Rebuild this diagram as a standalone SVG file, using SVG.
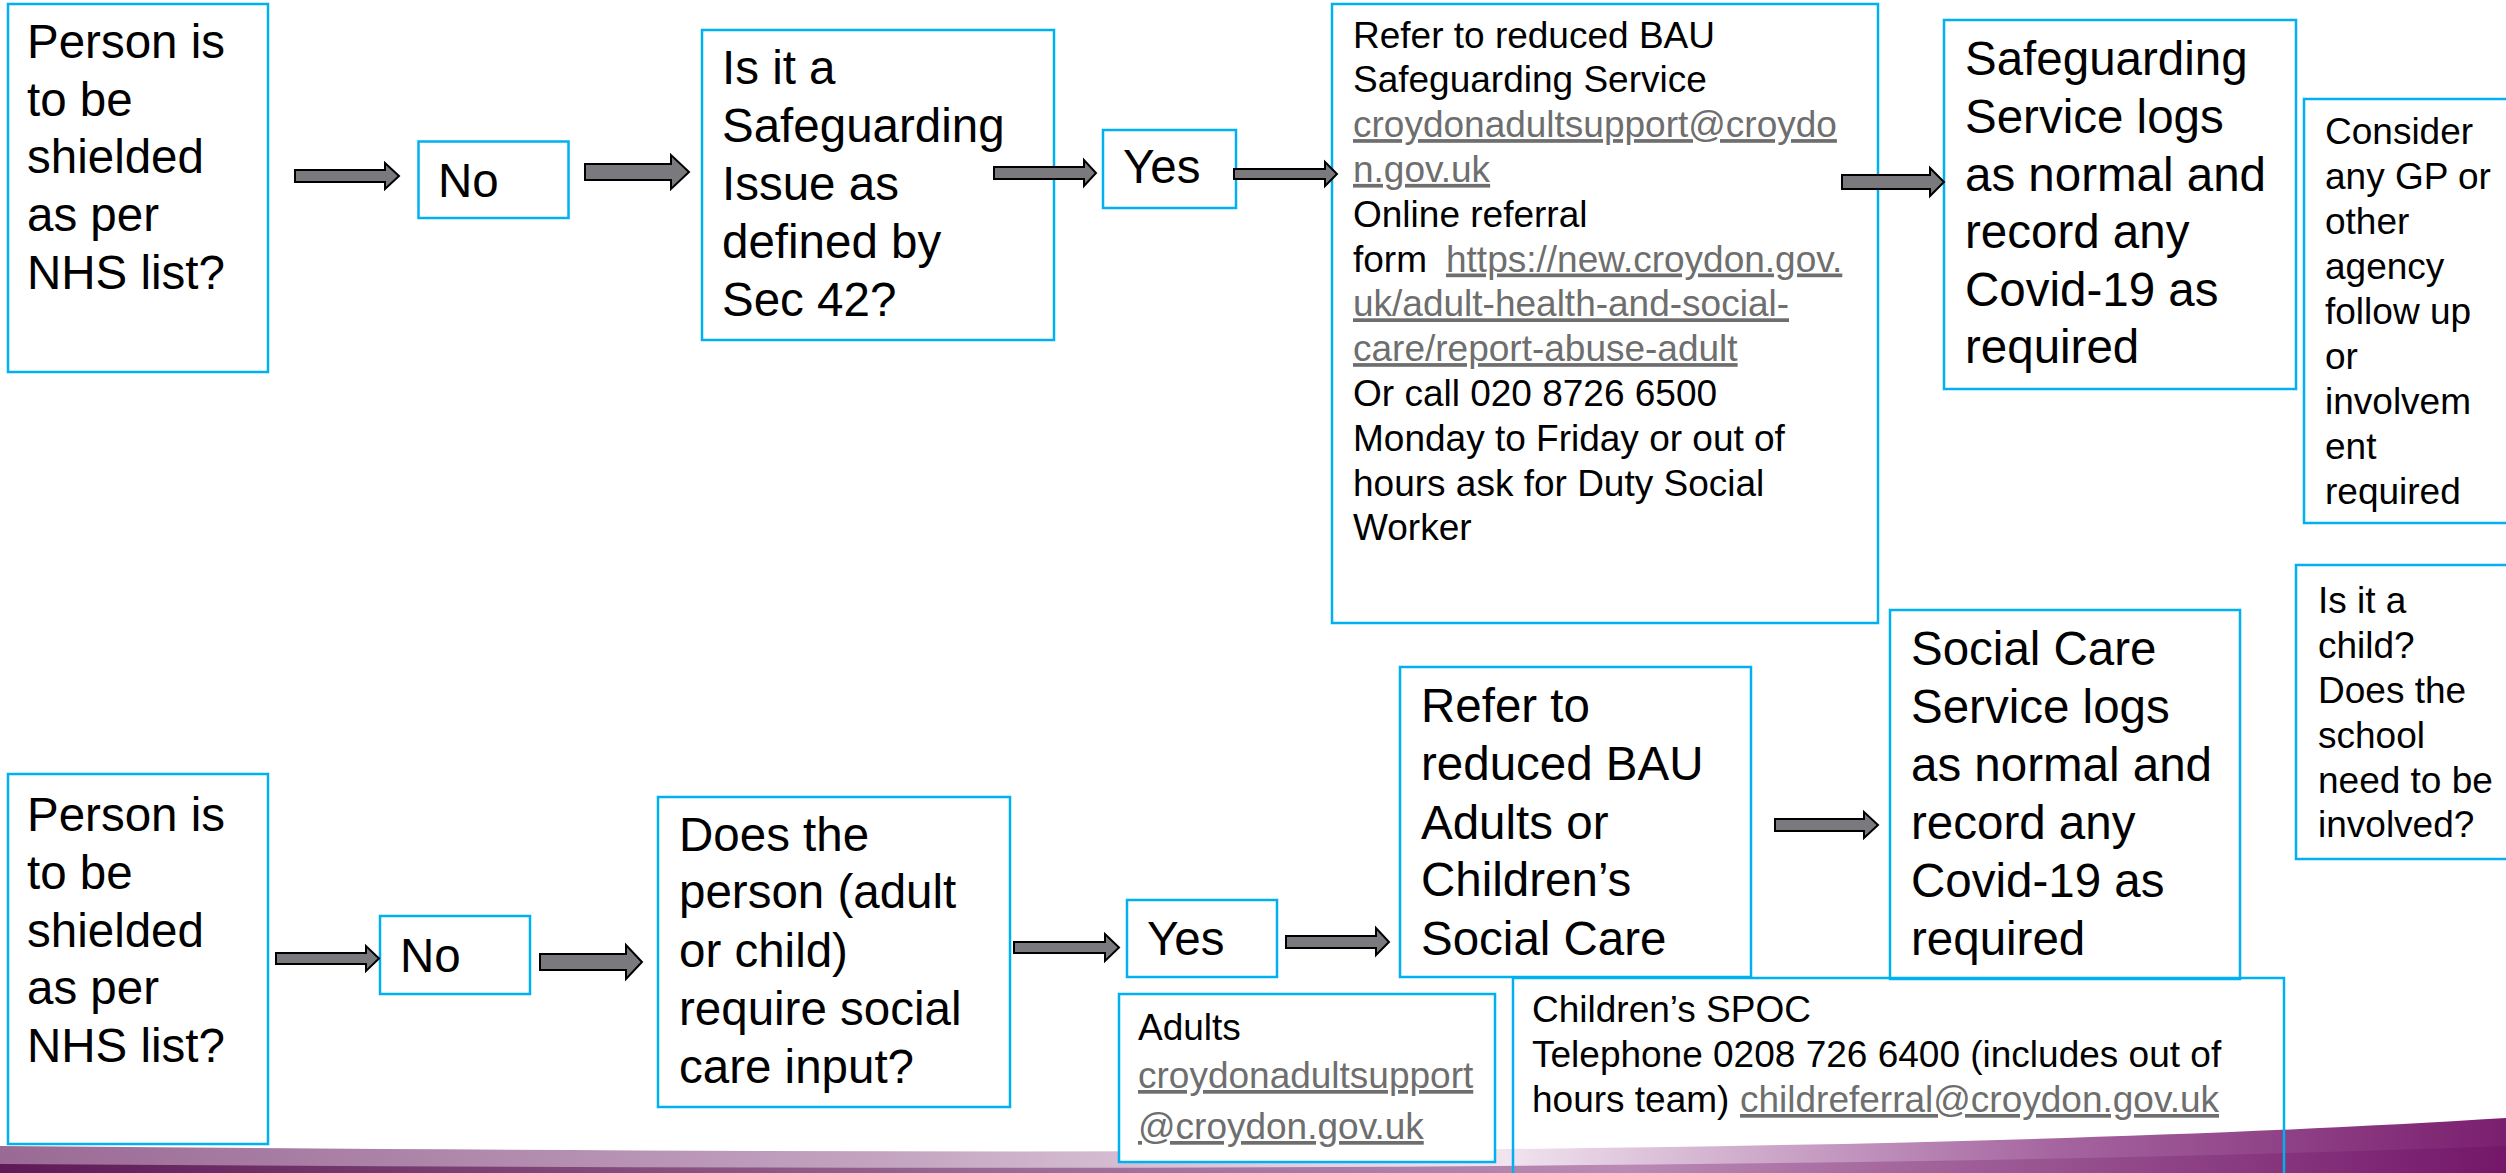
<svg xmlns="http://www.w3.org/2000/svg" width="2506" height="1173" viewBox="0 0 2506 1173">
<defs>
<style>
.box{fill:#ffffff;stroke:#00b0f0;stroke-width:2.5}
.boxn{fill:none;stroke:#00b0f0;stroke-width:2.5}
.big{font-family:"Liberation Sans",Arial,sans-serif;font-size:47.5px;fill:#000}
.sm{font-family:"Liberation Sans",Arial,sans-serif;font-size:37px;fill:#000}
.link{fill:#6e6e6e;text-decoration:underline}
.arr{fill:#7a7a7e;stroke:#000;stroke-width:2;stroke-linejoin:miter}
</style>
<linearGradient id="band" x1="0" y1="0" x2="1" y2="0">
<stop offset="0" stop-color="#9a6a95"/>
<stop offset="0.35" stop-color="#c3a3c0"/>
<stop offset="0.6" stop-color="#f1e4ef"/>
<stop offset="0.82" stop-color="#a565a0"/>
<stop offset="1" stop-color="#7a1f6e"/>
</linearGradient>
<linearGradient id="band2" x1="0" y1="0" x2="1" y2="0">
<stop offset="0" stop-color="#5e1a57"/>
<stop offset="0.4" stop-color="#9a6a95"/>
<stop offset="0.65" stop-color="#b98ab4"/>
<stop offset="1" stop-color="#74176a"/>
</linearGradient>
</defs>
<rect width="2506" height="1173" fill="#ffffff"/>
<g id="band-decor">
<path d="M0,1146 C800,1152 1800,1162 2506,1118 L2506,1173 L0,1173 Z" fill="url(#band)"/>
<path d="M0,1164 C900,1170 1800,1172 2506,1146 L2506,1173 L0,1173 Z" fill="url(#band2)"/>
</g>
<g id="n-a1">
<rect class="box" x="8" y="4" width="260" height="368"/>
<text class="big" x="27"><tspan x="27" y="58">Person is</tspan><tspan x="27" y="116">to be</tspan><tspan x="27" y="173">shielded</tspan><tspan x="27" y="231">as per</tspan><tspan x="27" y="289">NHS list?</tspan></text>
</g>
<g id="n-no1">
<rect class="box" x="418.5" y="141.5" width="150" height="76.5"/>
<text class="big" x="438" y="197">No</text>
</g>
<g id="n-b1">
<rect class="box" x="702" y="30" width="352" height="310"/>
<text class="big"><tspan x="722" y="84">Is it a</tspan><tspan x="722" y="142">Safeguarding</tspan><tspan x="722" y="200">Issue as</tspan><tspan x="722" y="258">defined by</tspan><tspan x="722" y="316">Sec 42?</tspan></text>
</g>
<g id="n-yes1">
<rect class="box" x="1103" y="130" width="133" height="78"/>
<text class="big" x="1123" y="183">Yes</text>
</g>
<g id="n-c1">
<rect class="box" x="1332" y="4" width="546" height="619"/>
<text class="sm">
<tspan x="1353" y="47.5">Refer to reduced BAU</tspan>
<tspan x="1353" y="92.3">Safeguarding Service</tspan>
<tspan x="1353" y="137.1" class="link">croydonadultsupport@croydo</tspan>
<tspan x="1353" y="181.9" class="link">n.gov.uk</tspan>
<tspan x="1353" y="226.7">Online referral</tspan>
<tspan x="1353" y="271.5">form</tspan><tspan x="1446" y="271.5" class="link">https://new.croydon.gov.</tspan>
<tspan x="1353" y="316.3" class="link">uk/adult-health-and-social-</tspan>
<tspan x="1353" y="361.1" class="link">care/report-abuse-adult</tspan>
<tspan x="1353" y="405.9">Or call 020 8726 6500</tspan>
<tspan x="1353" y="450.7">Monday to Friday or out of</tspan>
<tspan x="1353" y="495.5">hours ask for Duty Social</tspan>
<tspan x="1353" y="540.3">Worker</tspan>
</text>
</g>
<g id="n-d1">
<rect class="box" x="1944" y="20" width="352" height="369"/>
<text class="big"><tspan x="1965" y="75">Safeguarding</tspan><tspan x="1965" y="133">Service logs</tspan><tspan x="1965" y="191">as normal and</tspan><tspan x="1965" y="248">record any</tspan><tspan x="1965" y="306">Covid-19 as</tspan><tspan x="1965" y="363">required</tspan></text>
</g>
<g id="n-e1">
<rect class="box" x="2304" y="99" width="216" height="424"/>
<text class="sm"><tspan x="2325" y="144">Consider</tspan><tspan x="2325" y="189">any GP or</tspan><tspan x="2325" y="234">other</tspan><tspan x="2325" y="279">agency</tspan><tspan x="2325" y="324">follow up</tspan><tspan x="2325" y="369">or</tspan><tspan x="2325" y="414">involvem</tspan><tspan x="2325" y="459">ent</tspan><tspan x="2325" y="504">required</tspan></text>
</g>
<g id="n-a2">
<rect class="box" x="8" y="774" width="260" height="370"/>
<text class="big"><tspan x="27" y="831">Person is</tspan><tspan x="27" y="889">to be</tspan><tspan x="27" y="947">shielded</tspan><tspan x="27" y="1004">as per</tspan><tspan x="27" y="1062">NHS list?</tspan></text>
</g>
<g id="n-no2">
<rect class="box" x="380" y="916" width="150" height="78"/>
<text class="big" x="400" y="972">No</text>
</g>
<g id="n-b2">
<rect class="box" x="658" y="797" width="352" height="310"/>
<text class="big"><tspan x="679" y="851">Does the</tspan><tspan x="679" y="908">person (adult</tspan><tspan x="679" y="967">or child)</tspan><tspan x="679" y="1025">require social</tspan><tspan x="679" y="1083">care input?</tspan></text>
</g>
<g id="n-yes2">
<rect class="box" x="1127" y="900" width="150" height="77"/>
<text class="big" x="1147" y="954.5">Yes</text>
</g>
<g id="n-c2">
<rect class="box" x="1400" y="667" width="351" height="310"/>
<text class="big"><tspan x="1421" y="722">Refer to</tspan><tspan x="1421" y="780">reduced BAU</tspan><tspan x="1421" y="838.5">Adults or</tspan><tspan x="1421" y="896">Children’s</tspan><tspan x="1421" y="954.5">Social Care</tspan></text>
</g>
<g id="n-d2">
<rect class="box" x="1890" y="610" width="350" height="369"/>
<text class="big"><tspan x="1911" y="665">Social Care</tspan><tspan x="1911" y="723">Service logs</tspan><tspan x="1911" y="781">as normal and</tspan><tspan x="1911" y="839">record any</tspan><tspan x="1911" y="897">Covid-19 as</tspan><tspan x="1911" y="955">required</tspan></text>
</g>
<g id="n-e2">
<rect class="box" x="2296" y="565" width="224" height="294"/>
<text class="sm"><tspan x="2318" y="613">Is it a</tspan><tspan x="2318" y="658">child?</tspan><tspan x="2318" y="703">Does the</tspan><tspan x="2318" y="748">school</tspan><tspan x="2318" y="793">need to be</tspan><tspan x="2318" y="837">involved?</tspan></text>
</g>
<g id="n-adults">
<rect class="box" x="1119" y="994" width="376" height="168"/>
<text class="sm"><tspan x="1138" y="1040">Adults</tspan><tspan x="1138" y="1088" class="link">croydonadultsupport</tspan><tspan x="1138" y="1139" class="link">@croydon.gov.uk</tspan></text>
</g>
<g id="n-spoc">
<rect class="boxn" x="1513" y="978" width="771" height="210"/>
<text class="sm"><tspan x="1532" y="1022">Children’s SPOC</tspan><tspan x="1532" y="1067">Telephone 0208 726 6400 (includes out of</tspan><tspan x="1532" y="1112">hours team)</tspan><tspan x="1740" y="1112" class="link">childreferral@croydon.gov.uk</tspan></text>
</g>
<g id="connectors">
<path class="arr" d="M295,170 L385,170 L385,163 L399,176 L385,189 L385,182 L295,182 Z"/>
<path class="arr" d="M585,164 L671,164 L671,155 L689,172 L671,189 L671,180 L585,180 Z"/>
<path class="arr" d="M994,167 L1084,167 L1084,160 L1096,173 L1084,186 L1084,179 L994,179 Z"/>
<path class="arr" d="M1234,169 L1325,169 L1325,162 L1337,174 L1325,186 L1325,179 L1234,179 Z"/>
<path class="arr" d="M1842,175 L1930,175 L1930,168 L1944,182 L1930,196 L1930,189 L1842,189 Z"/>
<path class="arr" d="M276,953 L366,953 L366,946 L379,958.5 L366,971 L366,964 L276,964 Z"/>
<path class="arr" d="M540,954 L626,954 L626,945 L642,962 L626,979 L626,970 L540,970 Z"/>
<path class="arr" d="M1014,942 L1105,942 L1105,934 L1119,947.5 L1105,961 L1105,953 L1014,953 Z"/>
<path class="arr" d="M1286,936 L1376,936 L1376,928 L1389,942 L1376,955 L1376,948 L1286,948 Z"/>
<path class="arr" d="M1775,819 L1864,819 L1864,812 L1878,825 L1864,838 L1864,831 L1775,831 Z"/>
</g>
</svg>
